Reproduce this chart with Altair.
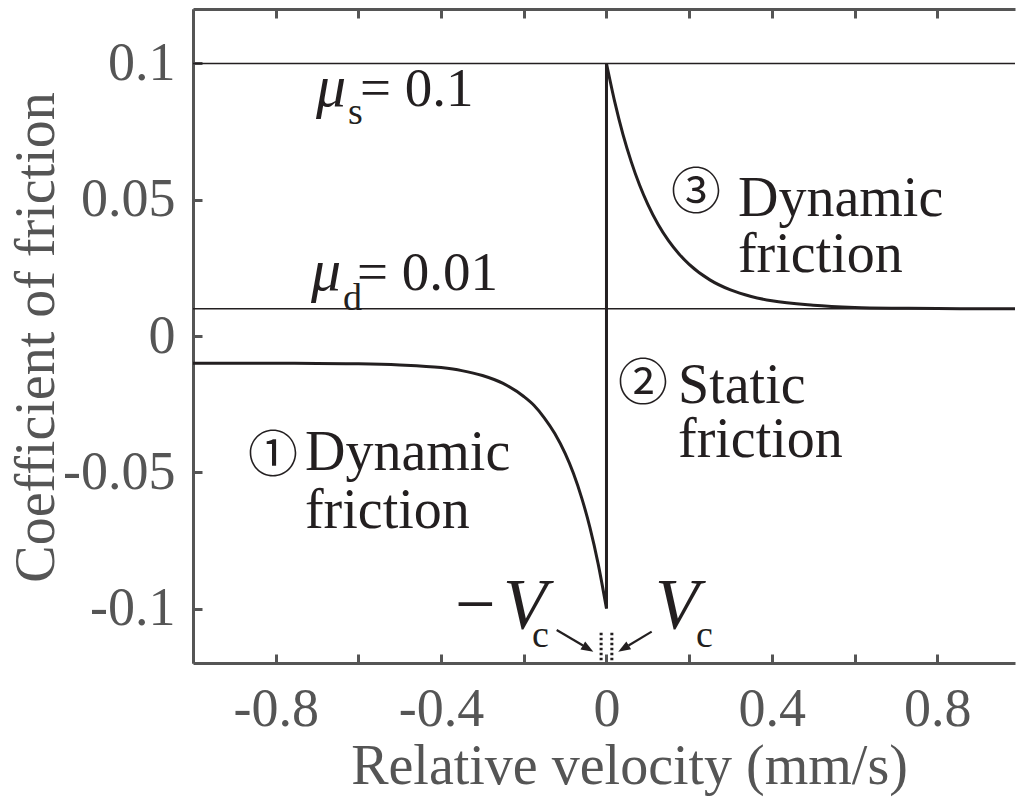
import altair as alt
import pandas as pd

# ---- friction curve ----
neg_v = [-1.0, -0.9, -0.8, -0.7, -0.6, -0.5, -0.4, -0.35, -0.3, -0.25, -0.2, -0.175,
         -0.15, -0.125, -0.1, -0.08, -0.06, -0.04, -0.02, 0.0]
neg_mu = [-0.0100, -0.0100, -0.0100, -0.0101, -0.0102, -0.0106, -0.0116, -0.0127, -0.0145,
          -0.0174, -0.0222, -0.0255, -0.0301, -0.0358, -0.0431, -0.0504, -0.0594, -0.0703,
          -0.0837, -0.1000]
pos_v = [0.0, 0.02, 0.04, 0.06, 0.08, 0.1, 0.125, 0.15, 0.175, 0.2, 0.25, 0.3, 0.35, 0.4,
         0.5, 0.6, 0.7, 0.8, 0.9, 1.0]
pos_mu = [0.1000, 0.0859, 0.0739, 0.0639, 0.0554, 0.0483, 0.0409, 0.0350, 0.0302, 0.0263,
          0.0206, 0.0169, 0.0145, 0.0129, 0.0113, 0.0105, 0.0102, 0.0101, 0.0100, 0.0100]
static_v = [0.0]
static_lo = [-0.1]
static_hi = [0.1]

# reference levels mu_s, mu_d
levels = [0.1, 0.01]

# +-Vc markers
vc_x = [-0.013, 0.013]
vc_lo = [-0.1190, -0.1190]
vc_hi = [-0.1085, -0.1085]

# arrows
arr_x1 = [-0.1204, 0.1093]
arr_y1 = [-0.1079, -0.1085]
arr_x2 = [-0.0568, 0.0534]
arr_y2 = [-0.1136, -0.1136]
head_x = [-0.0445, 0.0411]
head_y = [-0.1147, -0.1147]
head_ang = [30.7, 149.1]

# ticks
x_ticks = [-1.0, -0.8, -0.6, -0.4, -0.2, 0.0, 0.2, 0.4, 0.6, 0.8]
x_tick_labels = ["", "-0.8", "", "-0.4", "", "0", "", "0.4", "", "0.8"]
y_ticks = [-0.1, -0.05, 0.0, 0.05, 0.1]
y_tick_labels = ["-0.1", "-0.05", "0", "0.05", "0.1"]

# annotations
body_texts = ["Dynamic", "friction", "Static", "friction", "Dynamic", "friction"]
body_x = [0.318, 0.318, 0.173, 0.173, -0.7292, -0.7292]
body_y = [0.0440, 0.0235, -0.0246, -0.0444, -0.0492, -0.0705]
eq_texts = ["= 0.1", "= 0.01"]
eq_x = [-0.5962, -0.6034]
eq_y = [0.0844, 0.0169]
mu_texts = ["μ", "μ"]
mu_x = [-0.7025, -0.7146]
mu_y = [0.0844, 0.0169]
sub_texts = ["s", "d", "c", "c"]
sub_x = [-0.6252, -0.6373, -0.1802, 0.2164]
sub_y = [0.0778, 0.0095, -0.1141, -0.1141]
circ_texts = ["①", "②", "③"]
circ_x = [-0.8065, 0.0883, 0.2164]
circ_y = [-0.0444, -0.0180, 0.0521]
v_texts = ["−", "V", "V"]
v_x = [-0.3664, -0.2503, 0.1173]
v_y = [-0.1072, -0.1072, -0.1072]

AX = "#555555"
INK = "#231f20"
SERIF = "Liberation Serif"


def label_expr(vals, labels):
    expr = "''"
    for v, l in reversed(list(zip(vals, labels))):
        expr = f"abs(datum.value - ({v})) < 1e-9 ? '{l}' : ({expr})"
    return expr


xscale = alt.Scale(domain=[-1.0, 0.988], nice=False, zero=False)
yscale = alt.Scale(domain=[-0.12, 0.12], nice=False, zero=False)

x_axis = alt.Axis(
    values=x_ticks, labelExpr=label_expr(x_ticks, x_tick_labels),
    title="Relative velocity (mm/s)", grid=False,
    domainColor=AX, domainWidth=3, tickColor=AX, tickWidth=3,
    tickSize={"expr": "-9"}, labelPadding=28,
    labelFont=SERIF, labelFontSize=54, labelColor=AX, labelOverlap=False,
    labelFlush=False, labelBound=False,
    titleFont=SERIF, titleFontSize=56, titleFontWeight="normal", titleColor=AX,
    titleX=436, titleY=120, titleBaseline="alphabetic", titleAlign="center",
)
x_top_axis = alt.Axis(
    orient="top", values=x_ticks, labels=False, title=None, grid=False,
    domainColor=AX, domainWidth=3, tickColor=AX, tickWidth=3,
    tickSize={"expr": "-9"},
)
y_axis = alt.Axis(
    values=y_ticks, labelExpr=label_expr(y_ticks, y_tick_labels),
    title="Coefficient of friction", grid=False,
    domainColor=AX, domainWidth=3, tickColor=AX, tickWidth=3,
    tickSize={"expr": "-9"}, labelPadding=27,
    labelFont=SERIF, labelFontSize=54, labelColor=AX, labelOverlap=False,
    labelFlush=False, labelBound=False,
    titleFont=SERIF, titleFontSize=56, titleFontWeight="normal", titleColor=AX,
    titleAngle=270, titleX=-140, titleY=328, titleBaseline="alphabetic", titleAlign="center",
)


def Y(field):
    return alt.Y(field, scale=yscale, axis=y_axis)


def X(field, axis=None):
    return alt.X(field, scale=xscale, axis=axis)


neg_df = pd.DataFrame({"v": neg_v, "mu": neg_mu})
pos_df = pd.DataFrame({"v": pos_v, "mu": pos_mu})

neg_line = alt.Chart(neg_df).mark_line(
    color=INK, strokeWidth=3, interpolate="monotone", clip=True
).encode(x=X("v:Q", x_axis), y=Y("mu:Q"))
pos_line = alt.Chart(pos_df).mark_line(
    color=INK, strokeWidth=3, interpolate="monotone", clip=True
).encode(x=X("v:Q"), y=Y("mu:Q"))
static_line = alt.Chart(pd.DataFrame({"v": static_v, "lo": static_lo, "hi": static_hi})).mark_rule(
    color=INK, strokeWidth=3
).encode(x=X("v:Q"), y=Y("lo:Q"), y2="hi:Q")
level_lines = alt.Chart(pd.DataFrame({"mu": levels})).mark_rule(
    color=INK, strokeWidth=1.5
).encode(y=Y("mu:Q"))

vc_lines = alt.Chart(pd.DataFrame({"v": vc_x, "lo": vc_lo, "hi": vc_hi})).mark_rule(
    color=INK, strokeWidth=3, strokeDash=[2.5, 2.5]
).encode(x=X("v:Q", x_top_axis), y=Y("lo:Q"), y2="hi:Q")

arrows = alt.Chart(pd.DataFrame({"x1": arr_x1, "y1": arr_y1, "x2": arr_x2, "y2": arr_y2})).mark_rule(
    color=INK, strokeWidth=2.2
).encode(x=X("x1:Q"), y=Y("y1:Q"), x2="x2:Q", y2="y2:Q")
heads = alt.Chart(pd.DataFrame({"x": head_x, "y": head_y, "a": head_ang})).mark_point(
    shape="M1,0 L-1,-0.75 L-1,0.75 Z", filled=True, color=INK, opacity=1, size=150, strokeWidth=0
).encode(x=X("x:Q"), y=Y("y:Q"), angle=alt.Angle("a:Q", scale=None))


def text_layer(texts, xs, ys, size, font=SERIF, style="normal", align="left", baseline="alphabetic"):
    df = pd.DataFrame({"t": texts, "x": xs, "y": ys})
    return alt.Chart(df).mark_text(
        font=font, fontSize=size, fontStyle=style, color=INK, align=align, baseline=baseline
    ).encode(x=X("x:Q"), y=Y("y:Q"), text="t:N")


body = text_layer(body_texts, body_x, body_y, 56)
eqs = text_layer(eq_texts, eq_x, eq_y, 55)
mus = text_layer(mu_texts, mu_x, mu_y, 60, style="italic")
subs = text_layer(sub_texts, sub_x, sub_y, 38)
circs = text_layer(circ_texts, circ_x, circ_y, 50, font="Noto Sans CJK JP", align="center", baseline="middle")
minus = text_layer(v_texts[:1], v_x[:1], v_y[:1], 72)
vees = text_layer(v_texts[1:], v_x[1:], v_y[1:], 72, style="italic")

chart = alt.layer(
    neg_line, pos_line, static_line, level_lines, vc_lines, arrows, heads,
    body, eqs, mus, subs, circs, minus, vees,
).resolve_axis(x="independent").properties(
    width=822, height=654,
    autosize=alt.AutoSizeParams(type="none"),
    padding={"left": 193, "top": 9, "right": 1, "bottom": 138},
    background="white",
).configure_view(strokeWidth=0)

chart.save("out.html", embed_options={"renderer": "svg", "actions": False})
